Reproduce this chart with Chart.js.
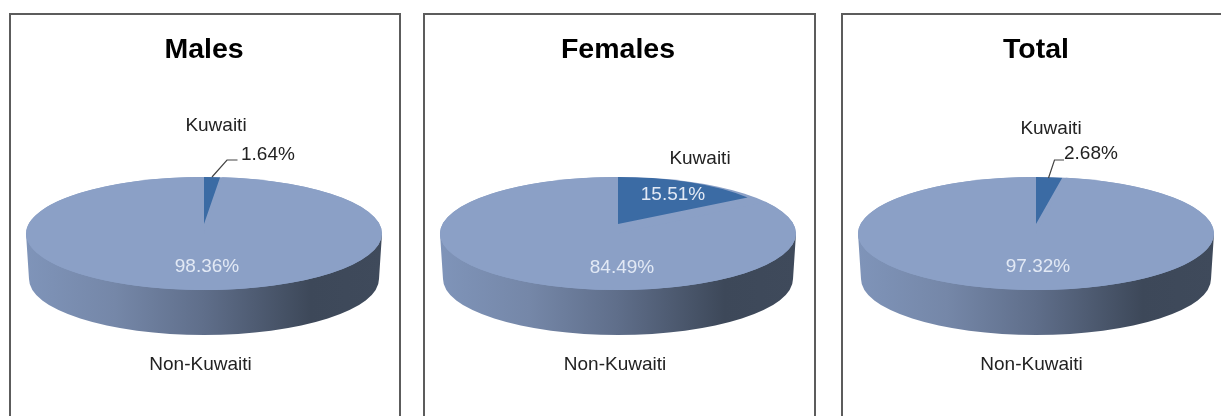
<!DOCTYPE html>
<html>
<head>
<meta charset="utf-8">
<script src="https://cdn.jsdelivr.net/npm/chart.js@4"></script>
<style>
html,body{margin:0;padding:0;background:#fff;overflow:hidden;width:1221px;height:416px}
#page{position:relative;width:1221px;height:416px;overflow:hidden;filter:blur(0.45px)}
.panel{position:absolute;top:13px;height:420px;width:388.5px;border:2px solid #5c5c5c;box-sizing:content-box}
canvas{position:absolute;top:0}
</style>
</head>
<body>
<div id="page"></div>
<script>
const categories = ['Kuwaiti', 'Non-Kuwaiti'];
const panelTitles = ['Males', 'Females', 'Total'];
const malesValues = [1.64, 98.36];
const femalesValues = [15.51, 84.49];
const totalValues = [2.68, 97.32];
const panelValues = [malesValues, femalesValues, totalValues];

// Layout only (pixels)
const FONT = '"Liberation Sans", Arial, sans-serif';
const COL_MAIN = '#8ba0c6', COL_WEDGE = '#3b6ba4';
const canvasLeft = [9.5, 424, 842];
const canvasW = 395;
const pieCX = 194, pieR = 178;
const TOP = {cy: 233.5, ry: 56.5};
const BOTTOM = {cy: 279, ry: 56, rx: 175};
const WEDGE = {apexY: 224, topY: 177, sx: 0.88};
const labelLayout = [
  {kw:[12,126], pct:[37,155,'left'], main:[3,267], nk:[-3.5,365], leader:[[33.5,160],[23,160],[8,177]]},
  {kw:[82,159], pct:[55,194.5,'center'], main:[4,267.5], nk:[-3,365], leader:null},
  {kw:[15,128.5], pct:[28,153.5,'left'], main:[2,267], nk:[-4.5,365], leader:[[28,160],[18.5,160],[12.5,178]]}
];

function fmt(v){ return v.toFixed(2) + '%'; }

const pie3d = {
  id: 'pie3d',
  beforeDatasetDraw(chart) {
    const ctx = chart.ctx;
    const [wedge, main] = chart.getDatasetMeta(0).data;
    const cx = main.x, rx = main.outerRadius;
    const syMain = TOP.ry / rx;

    // rim
    const g = ctx.createLinearGradient(cx - rx, 0, cx + rx, 0);
    g.addColorStop(0, '#7f94b9');
    g.addColorStop(0.25, '#7587a8');
    g.addColorStop(0.5, '#5f6e8a');
    g.addColorStop(0.8, '#3d4859');
    g.addColorStop(1, '#3f4a5b');
    ctx.save();
    ctx.beginPath();
    ctx.moveTo(cx - rx, TOP.cy);
    ctx.lineTo(cx - BOTTOM.rx, BOTTOM.cy);
    ctx.ellipse(cx, BOTTOM.cy, BOTTOM.rx, BOTTOM.ry, 0, Math.PI, 0, true);
    ctx.lineTo(cx + rx, TOP.cy);
    ctx.closePath();
    ctx.fillStyle = g;
    ctx.fill();

    // base of the top face
    ctx.beginPath();
    ctx.ellipse(cx, TOP.cy, rx, TOP.ry, 0, 0, Math.PI * 2);
    ctx.fillStyle = COL_MAIN;
    ctx.fill();
    ctx.restore();

    // large slice, drawn by the library's arc element
    ctx.save();
    ctx.translate(cx, TOP.cy);
    ctx.scale(1, syMain);
    ctx.translate(-main.x, -main.y);
    main.draw(ctx);
    ctx.restore();

    // small slice, perspective-corrected and clipped to the top face
    ctx.save();
    ctx.beginPath();
    ctx.ellipse(cx, TOP.cy, rx, TOP.ry, 0, 0, Math.PI * 2);
    ctx.clip();
    ctx.translate(cx, WEDGE.apexY);
    ctx.scale(WEDGE.sx, (WEDGE.apexY - WEDGE.topY) / rx);
    ctx.translate(-wedge.x, -wedge.y);
    wedge.draw(ctx);
    ctx.restore();
    return false;
  },
  afterDraw(chart, args, opts) {
    const ctx = chart.ctx, L = opts.layout, vals = chart.data.datasets[0].data, labs = chart.data.labels;
    const cx = chart.getDatasetMeta(0).data[0].x;
    ctx.save();
    ctx.font = '19px ' + FONT;
    ctx.textBaseline = 'middle';
    const text = (s, p, color, align) => {
      ctx.fillStyle = color; ctx.textAlign = align || 'center';
      ctx.fillText(s, cx + p[0], p[1]);
    };
    text(labs[0], L.kw, '#222');
    text(labs[1], L.nk, '#222');
    text(fmt(vals[1]), L.main, '#e2e9f5');
    text(fmt(vals[0]), L.pct, L.leader ? '#222' : '#e2e9f5', L.pct[2]);
    if (L.leader) {
      ctx.beginPath();
      L.leader.forEach((p, i) => i ? ctx.lineTo(cx + p[0], p[1]) : ctx.moveTo(cx + p[0], p[1]));
      ctx.strokeStyle = '#444'; ctx.lineWidth = 1.2; ctx.stroke();
    }
    ctx.restore();
  }
};

const page = document.getElementById('page');
panelTitles.forEach((title, i) => {
  const border = document.createElement('div');
  border.className = 'panel';
  border.style.left = (canvasLeft[i] - 1) + 'px';
  page.appendChild(border);
  const c = document.createElement('canvas');
  c.width = canvasW; c.height = 416;
  c.style.left = canvasLeft[i] + 'px';
  c.style.width = canvasW + 'px'; c.style.height = '416px';
  page.appendChild(c);
  new Chart(c, {
    type: 'pie',
    data: {
      labels: categories,
      datasets: [{
        data: panelValues[i],
        backgroundColor: [COL_WEDGE, COL_MAIN],
        borderWidth: 0,
        radius: pieR
      }]
    },
    options: {
      responsive: false,
      animation: false,
      layout: {padding: {left: 0, right: canvasW - 2 * pieCX}},
      plugins: {
        legend: {display: false},
        tooltip: {enabled: false},
        title: {
          display: true, text: title, color: '#000',
          font: {family: FONT, size: 28.5, weight: 'bold'},
          padding: {top: 33, bottom: 10}
        },
        pie3d: {layout: labelLayout[i]}
      }
    },
    plugins: [pie3d]
  });
});
</script>
</body>
</html>
